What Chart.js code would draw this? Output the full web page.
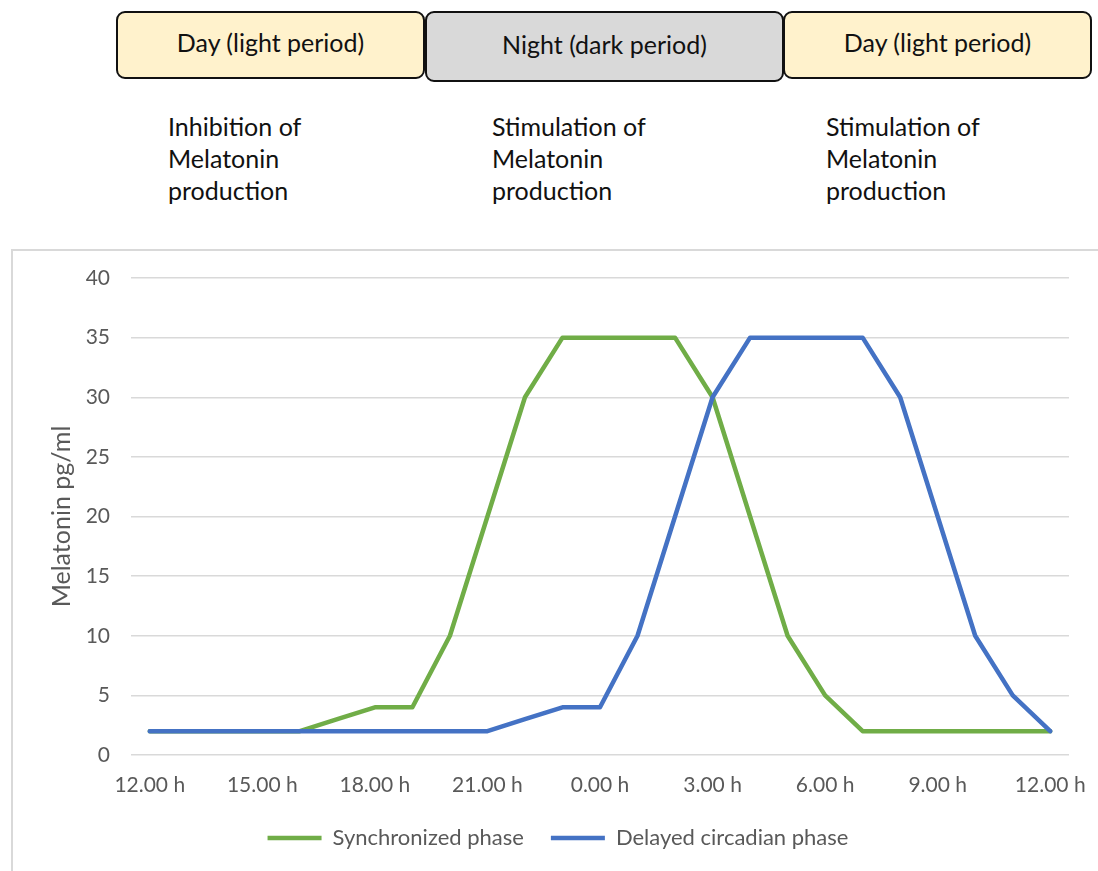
<!DOCTYPE html>
<html>
<head>
<meta charset="utf-8">
<script src="https://cdn.jsdelivr.net/npm/chart.js@4.4.0/dist/chart.umd.min.js"></script>
<style>
    body { margin: 0; background: #fff; font-family: Lato, sans-serif; }
    .wrap { position: relative; width: 1098px; height: 871px; overflow: hidden; }
    .phase {
        position: absolute; top: 11px; box-sizing: border-box;
        border: 2px solid #111; border-radius: 9px; padding-bottom: 6px;
        display: flex; align-items: center; justify-content: center;
        font-size: 25px; color: #111;
    }
    .day { background: #fff2cc; height: 68px; }
    .night { background: #d9d9d9; height: 71px; }
    .note { position: absolute; top: 110px; font-size: 25px; line-height: 32px; color: #111; }
    .frame {
        position: absolute; left: 11px; top: 249px; width: 1120px; height: 660px;
        border: 2px solid #d9d9d9; box-sizing: border-box;
    }
    #chart { position: absolute; left: 0; top: 0; }
</style>
</head>
<body>
<div class="wrap">
    <div class="phase day" style="left:116px;width:309px;">Day (light period)</div>
    <div class="phase night" style="left:425px;width:359px;">Night (dark period)</div>
    <div class="phase day" style="left:783px;width:309px;">Day (light period)</div>

    <div class="note" style="left:168px;">Inhibition of<br>Melatonin<br>production</div>
    <div class="note" style="left:492px;">Stimulation of<br>Melatonin<br>production</div>
    <div class="note" style="left:826px;">Stimulation of<br>Melatonin<br>production</div>

    <div class="frame"></div>
    <canvas id="chart" width="1098" height="871"></canvas>
</div>
<script>
    // Data (hourly, 12.00 h to 12.00 h next day)
    const hours = ['12.00 h', '13.00 h', '14.00 h', '15.00 h', '16.00 h', '17.00 h', '18.00 h', '19.00 h',
        '20.00 h', '21.00 h', '22.00 h', '23.00 h', '0.00 h', '1.00 h', '2.00 h', '3.00 h', '4.00 h',
        '5.00 h', '6.00 h', '7.00 h', '8.00 h', '9.00 h', '10.00 h', '11.00 h', '12.00 h'];
    const tickLabels = ['12.00 h', '15.00 h', '18.00 h', '21.00 h', '0.00 h', '3.00 h', '6.00 h', '9.00 h'];
    const synchronized = [2, 2, 2, 2, 2, 3, 4, 4, 10, 20, 30, 35, 35, 35, 35, 30, 20, 10, 5, 2, 2, 2, 2, 2, 2];
    const delayed = [2, 2, 2, 2, 2, 2, 2, 2, 2, 2, 3, 4, 4, 10, 20, 30, 35, 35, 35, 35, 30, 20, 10, 5, 2];

    const axisGrey = '#595959';

    const ctx = document.getElementById('chart').getContext('2d');
    const chart = new Chart(ctx, {
        type: 'line',
        data: {
            labels: hours,
            datasets: [{
                label: 'Synchronized phase',
                data: synchronized,
                borderColor: '#70ad47',
                backgroundColor: '#70ad47',
                borderWidth: 4.5,
                order: 2
            }, {
                label: 'Delayed circadian phase',
                data: delayed,
                borderColor: '#4472c4',
                backgroundColor: '#4472c4',
                borderWidth: 4.5,
                order: 1
            }]
        },
        options: {
            responsive: false,
            animation: false,
            elements: {
                line: { tension: 0, borderCapStyle: 'round', borderJoinStyle: 'round' },
                point: { radius: 0 }
            },
            layout: {
                padding: { left: 47, right: 29, top: 278, bottom: 12 }
            },
            plugins: {
                tooltip: { enabled: false },
                legend: {
                    position: 'bottom',
                    labels: {
                        usePointStyle: true,
                        pointStyle: 'line',
                        pointStyleWidth: 54,
                        boxHeight: 5,
                        padding: 27,
                        color: axisGrey,
                        font: { family: 'Lato', size: 22 },
                        sort: (a, b) => a.datasetIndex - b.datasetIndex
                    }
                }
            },
            scales: {
                x: {
                    offset: true,
                    grid: { display: false, drawTicks: false },
                    border: { display: false },
                    ticks: {
                        autoSkip: false,
                        maxRotation: 0,
                        padding: 18,
                        color: axisGrey,
                        font: { family: 'Lato', size: 21 },
                        callback: function (value, index) {
                            const label = this.getLabelForValue(value);
                            return (index % 3 === 0 && (tickLabels.includes(label) || index === hours.length - 1)) ? label : '';
                        }
                    },
                    afterFit: s => {
                        s.height = 45;
                        // last label may hang past the plot edge, don't shrink the plot for it
                        s.paddingLeft = 0;
                        s.paddingRight = 0;
                    }
                },
                y: {
                    min: 0,
                    max: 40,
                    grid: { color: '#d9d9d9', lineWidth: 1.5, drawTicks: false },
                    border: { display: false },
                    ticks: {
                        stepSize: 5,
                        padding: 21,
                        color: axisGrey,
                        font: { family: 'Lato', size: 21 }
                    },
                    title: {
                        display: true,
                        text: 'Melatonin pg/ml',
                        color: axisGrey,
                        padding: 0,
                        font: { family: 'Lato', size: 25 }
                    },
                    afterFit: s => { s.width = 84; }
                }
            }
        }
    });
</script>
</body>
</html>
